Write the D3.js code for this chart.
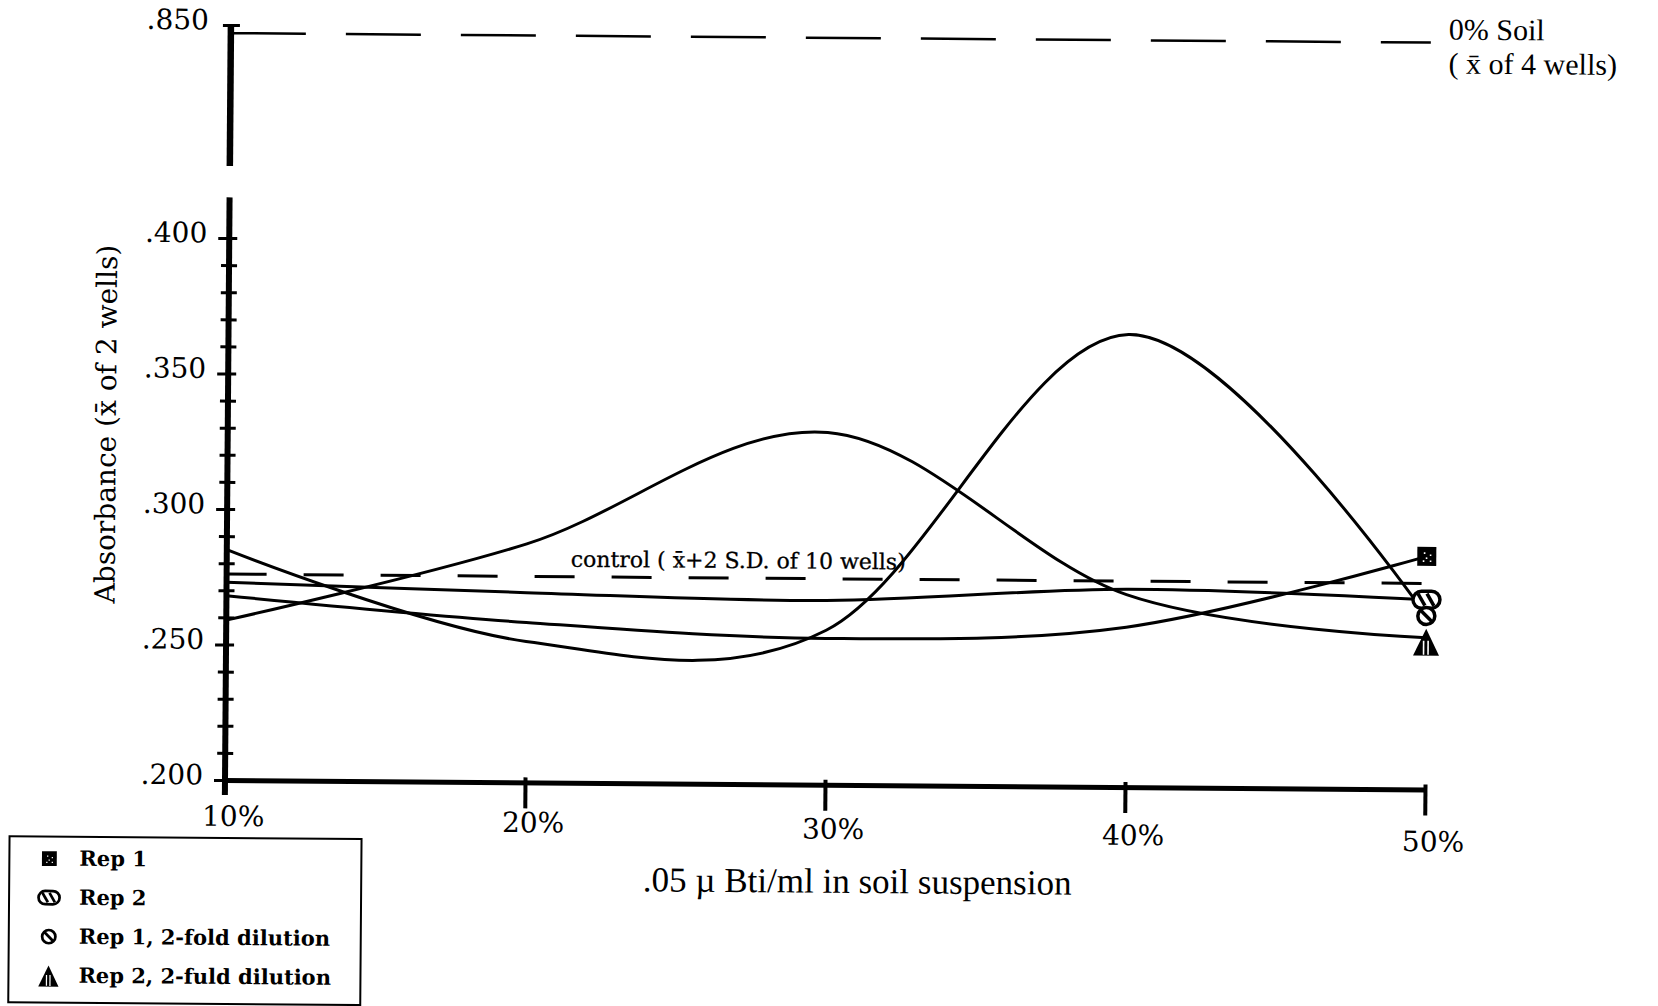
<!DOCTYPE html>
<html>
<head>
<meta charset="utf-8">
<title>Absorbance vs Bti concentration in soil suspension</title>
<script src="https://cdn.jsdelivr.net/npm/d3@7"></script>
<style>
  html, body { margin: 0; padding: 0; background: #fff; }
  svg { display: block; }
</style>
</head>
<body>
<svg id="chart" width="1658" height="1006"></svg>
<script>
// Soil concentration levels (x) and their tick labels
const concentrations = [10, 20, 30, 40, 50];
const xTickLabels = ["10%", "20%", "30%", "40%", "50%"];

// Mean absorbance (x̄ of 2 wells) for each series
const rep1 = [0.268, 0.259, 0.254, 0.259, 0.286];
const rep2 = [0.273, 0.270, 0.268, 0.273, 0.270];
const rep1TwoFold = [0.285, 0.252, 0.257, 0.367, 0.264];
const rep2TwoFold = [0.259, 0.288, 0.330, 0.271, 0.256];

// Reference levels
const controlLevel = 0.276;   // control (x̄ + 2 S.D. of 10 wells)
const noSoilLevel = 0.847;    // 0% soil (x̄ of 4 wells)

// Y ticks for the lower and upper parts of the broken axis
const yMajorTicks = [0.200, 0.250, 0.300, 0.350, 0.400];
const yTickLabels = [".200", ".250", ".300", ".350", ".400"];
const yTopTicks = [0.850];
const yTopTickLabels = [".850"];

const seriesNames = ["Rep 1", "Rep 2", "Rep 1, 2-fold dilution", "Rep 2, 2-fuld dilution"];
const seriesMarkers = ["square", "oval", "circle", "triangle"];
const seriesValues = [rep1, rep2, rep1TwoFold, rep2TwoFold];

const SERIF = "DejaVu Serif";
const TIMES = "Liberation Serif";

const svg = d3.select("#chart");
const origin = { x: 225, y: 780 };
// the whole figure sits slightly skewed on the page
const g = svg.append("g").attr("transform", `rotate(0.45,${origin.x},${origin.y})`);

// Scales
const x = d3.scaleLinear().domain([10, 50]).range([origin.x, 1425]);
const yLow = d3.scaleLinear().domain([0.200, 0.400]).range([origin.y, 238]);
const yTop = d3.scaleLinear().domain([0.798, 0.850]).range([166, 25]);
const lowTop = 0.415;

// ---- Y axis, lower segment ----
const yMinor = d3.range(20, 41).map(v => v / 100);
const isMajor = v => yMajorTicks.some(m => Math.abs(m - v) < 1e-9);
const ya = g.append("g")
  .attr("transform", `translate(${x(10)},0)`)
  .call(d3.axisLeft(yLow)
    .tickValues(yMinor)
    .tickSize(0)
    .tickFormat(v => {
      const i = yMajorTicks.findIndex(m => Math.abs(m - v) < 1e-9);
      return i >= 0 ? yTickLabels[i] : "";
    }))
  .attr("font-family", SERIF)
  .attr("font-size", 28);
ya.select(".domain").remove();
ya.selectAll(".tick line")
  .attr("x1", d => isMajor(d) ? -11 : -8)
  .attr("x2", 8)
  .attr("stroke", "#000")
  .attr("stroke-width", 3);
ya.selectAll(".tick text")
  .attr("x", -22)
  .attr("y", -5)
  .attr("fill", "#000");

g.append("line")
  .attr("x1", x(10)).attr("x2", x(10))
  .attr("y1", yLow(lowTop)).attr("y2", yLow(0.200) + 15)
  .attr("stroke", "#000").attr("stroke-width", 6);

// ---- Y axis, upper segment ----
const yt = g.append("g")
  .attr("transform", `translate(${x(10)},0)`)
  .call(d3.axisLeft(yTop).tickValues(yTopTicks).tickSize(0).tickFormat((d, i) => yTopTickLabels[i]))
  .attr("font-family", SERIF)
  .attr("font-size", 28);
yt.select(".domain").remove();
yt.selectAll(".tick line").attr("x1", -8).attr("x2", 9).attr("stroke", "#000").attr("stroke-width", 3);
yt.selectAll(".tick text").attr("x", -22).attr("y", -5).attr("fill", "#000");

g.append("line")
  .attr("x1", x(10)).attr("x2", x(10))
  .attr("y1", yTop(0.850)).attr("y2", yTop(0.798))
  .attr("stroke", "#000").attr("stroke-width", 6.5);

// ---- X axis ----
const xa = g.append("g")
  .attr("transform", `translate(0,${yLow(0.200)})`)
  .call(d3.axisBottom(x)
    .tickValues(concentrations)
    .tickSizeOuter(0)
    .tickSize(0)
    .tickFormat((d, i) => xTickLabels[i]))
  .attr("font-family", SERIF)
  .attr("font-size", 28);
xa.select(".domain").attr("stroke", "#000").attr("stroke-width", 5);
xa.selectAll(".tick line")
  .attr("y1", -5).attr("y2", 26)
  .attr("stroke", "#000").attr("stroke-width", 4)
  .filter(d => d === concentrations[0]).remove();
// labels drift a little lower towards the right, as in the printed figure
xa.selectAll(".tick text")
  .attr("y", (d, i) => 26 + 4 * i)
  .attr("dx", 8)
  .attr("fill", "#000");

// ---- Axis titles ----
g.append("text")
  .attr("transform", "translate(113,425) rotate(-90)")
  .attr("text-anchor", "middle")
  .attr("font-family", SERIF)
  .attr("font-size", 28)
  .text("Absorbance (x\u0304 of 2 wells)");

g.append("text")
  .attr("x", 858).attr("y", 888)
  .attr("text-anchor", "middle")
  .attr("font-family", TIMES)
  .attr("font-size", 35)
  .text(".05 \u00b5 Bti/ml in soil suspension");

// ---- Reference lines ----
const flatLine = d3.line().x(d => x(d[0])).y(d => d[1]);

g.append("path")
  .attr("d", flatLine([[10, yTop(noSoilLevel)], [50, yTop(noSoilLevel)]]))
  .attr("fill", "none").attr("stroke", "#000").attr("stroke-width", 2.5)
  .attr("stroke-dasharray", "75 40");

g.append("text")
  .attr("x", 1443).attr("y", 30)
  .attr("font-family", TIMES).attr("font-size", 30)
  .text("0% Soil");
g.append("text")
  .attr("x", 1443).attr("y", 64)
  .attr("font-family", TIMES).attr("font-size", 30)
  .attr("xml:space", "preserve")
  .text("( x\u0304 of 4 wells)");

g.append("path")
  .attr("d", flatLine([[10, yLow(controlLevel)], [50, yLow(controlLevel)]]))
  .attr("fill", "none").attr("stroke", "#000").attr("stroke-width", 3)
  .attr("stroke-dasharray", "40 37");

g.append("text")
  .attr("x", 569).attr("y", 564)
  .attr("font-family", SERIF).attr("font-size", 22)
  .attr("stroke", "#000").attr("stroke-width", 0.3)
  .text("control ( x\u0304+2 S.D. of 10 wells)");

// ---- Series curves ----
const curve = d3.line()
  .x((d, i) => x(concentrations[i]))
  .y(d => yLow(d))
  .curve(d3.curveCardinal.tension(0));

seriesValues.forEach(vals => {
  g.append("path")
    .attr("d", curve(vals))
    .attr("fill", "none")
    .attr("stroke", "#000")
    .attr("stroke-width", 3)
    .attr("stroke-linejoin", "round");
});

// ---- Marker symbols ----
function drawMarker(parent, type, cx, cy, s) {
  const m = parent.append("g").attr("transform", `translate(${cx},${cy}) scale(${s})`);
  if (type === "square") {
    m.append("rect").attr("x", -9.5).attr("y", -9.5).attr("width", 19).attr("height", 19).attr("fill", "#000");
    [[-3, -4], [3, -2], [-1, 1], [-4, 4], [3, 4]].forEach(([a, b]) =>
      m.append("rect").attr("x", a).attr("y", b).attr("width", 1.6).attr("height", 1.6).attr("fill", "#fff"));
  } else if (type === "oval") {
    m.append("rect").attr("x", -13.5).attr("y", -8.5).attr("width", 27).attr("height", 17).attr("rx", 8.5)
      .attr("fill", "#fff").attr("stroke", "#000").attr("stroke-width", 3.5);
    [-5, 4].forEach(a =>
      m.append("line").attr("x1", a - 3.5).attr("y1", -6).attr("x2", a + 3.5).attr("y2", 6)
        .attr("stroke", "#000").attr("stroke-width", 3.5));
  } else if (type === "circle") {
    m.append("circle").attr("r", 8.5).attr("fill", "#fff").attr("stroke", "#000").attr("stroke-width", 3.5);
    m.append("line").attr("x1", -5.5).attr("y1", -5.5).attr("x2", 5.5).attr("y2", 5.5)
      .attr("stroke", "#000").attr("stroke-width", 3.5);
  } else if (type === "triangle") {
    m.append("path").attr("d", "M0,-9L13,18L-13,18Z").attr("fill", "#000");
    [-2.5, 2].forEach(a =>
      m.append("line").attr("x1", a).attr("x2", a).attr("y1", 3).attr("y2", 17)
        .attr("stroke", "#fff").attr("stroke-width", 1.6));
  }
}

const last = concentrations.length - 1;
seriesValues.forEach((vals, i) => {
  drawMarker(g, seriesMarkers[i], x(concentrations[last]), yLow(vals[last]), 1);
});

// ---- Legend ----
const legend = g.append("g");
legend.append("rect")
  .attr("x", 10).attr("y", 838).attr("width", 352).attr("height", 166)
  .attr("fill", "#fff").attr("stroke", "#000").attr("stroke-width", 2);
seriesNames.forEach((name, i) => {
  const cy = 860 + i * 39;
  drawMarker(legend, seriesMarkers[i], 50, cy + (seriesMarkers[i] === "triangle" ? -3 : 0), 0.78);
  legend.append("text")
    .attr("x", 80).attr("y", cy + 7)
    .attr("font-family", SERIF).attr("font-size", 21).attr("font-weight", "bold")
    .text(name);
});
</script>
</body>
</html>
